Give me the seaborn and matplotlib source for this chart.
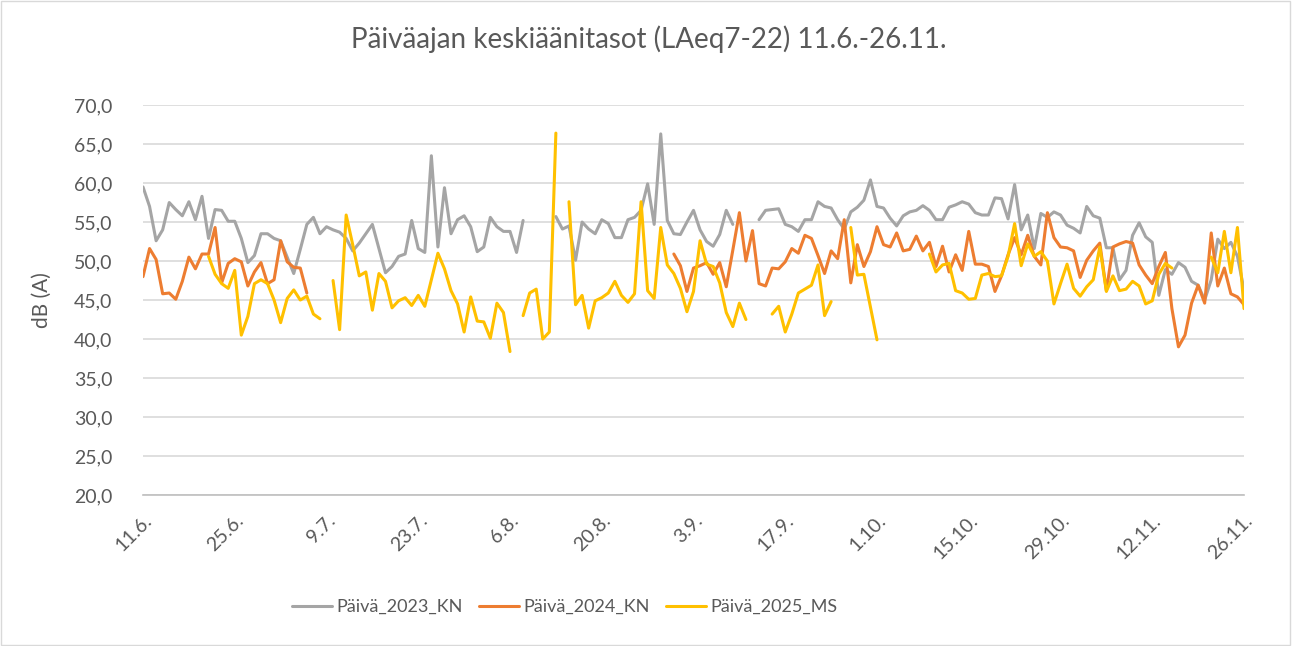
import numpy as np
import pandas as pd
import matplotlib
matplotlib.use("Agg")
import matplotlib.pyplot as plt
import seaborn as sns

nan = np.nan

# päivät 11.6. - 26.11. (169 päivää), indeksi 0..168
tick_pos = list(range(0, 169, 14))
tick_labels = ["11.6.", "25.6.", "9.7.", "23.7.", "6.8.", "20.8.", "3.9.",
               "17.9.", "1.10.", "15.10.", "29.10.", "12.11.", "26.11."]

paiva_2023 = [
    59.5, 57.0, 52.6, 54.0, 57.5, 56.6, 55.8, 57.6, 55.3, 58.3,
    52.9, 56.6, 56.5, 55.1, 55.1, 52.9, 49.8, 50.7, 53.5, 53.5,
    52.9, 52.6, 50.5, 48.4, 51.5, 54.7, 55.6, 53.5, 54.4, 54.0,
    53.7, 52.9, 51.3, 52.3, 53.5, 54.7, 51.6, 48.5, 49.3, 50.6,
    50.9, 55.2, 51.6, 51.1, 63.5, 51.8, 59.4, 53.5, 55.3, 55.8,
    54.4, 51.2, 51.8, 55.6, 54.4, 53.8, 53.8, 51.1, 55.2, nan,
    nan, nan, nan, 55.7, 54.1, 54.5, 50.1, 55.0, 54.1, 53.5,
    55.3, 54.8, 53.0, 53.0, 55.3, 55.6, 56.5, 59.9, 54.7, 66.3,
    55.2, 53.5, 53.4, 55.0, 56.5, 54.0, 52.5, 51.9, 53.4, 56.5,
    54.7, nan, nan, nan, 55.3, 56.5, 56.6, 56.7, 54.7, 54.4,
    53.8, 55.3, 55.3, 57.6, 57.0, 56.8, 55.3, 54.1, 56.3, 56.9,
    57.8, 60.4, 57.0, 56.8, 55.5, 54.5, 55.8, 56.3, 56.5, 57.1,
    56.5, 55.3, 55.3, 56.9, 57.2, 57.6, 57.3, 56.2, 55.9, 55.9,
    58.1, 58.0, 55.4, 59.8, 54.0, 55.9, 51.6, 56.1, 55.6, 56.3,
    55.9, 54.6, 54.2, 53.6, 57.0, 55.8, 55.5, 51.7, 51.7, 47.6,
    48.8, 53.3, 54.9, 53.1, 52.4, 45.6, 48.9, 48.3, 49.8, 49.2,
    47.4, 46.9, 45.0, 47.6, 52.8, 51.6, 52.4, 50.6, 46.3,
]

paiva_2024 = [
    48.0, 51.6, 50.2, 45.8, 45.9, 45.1, 47.4, 50.5, 49.0, 50.9,
    50.9, 54.3, 47.2, 49.7, 50.3, 49.9, 46.8, 48.6, 49.8, 47.1,
    47.6, 52.6, 49.9, 49.2, 49.1, 45.9, nan, nan, nan, nan,
    nan, nan, nan, nan, nan, nan, nan, nan, nan, nan,
    nan, nan, nan, nan, nan, nan, nan, nan, nan, nan,
    nan, nan, nan, nan, nan, nan, nan, nan, nan, nan,
    nan, nan, nan, nan, nan, nan, nan, nan, nan, nan,
    nan, nan, nan, nan, nan, nan, nan, nan, nan, nan,
    nan, 50.9, 49.4, 46.1, 49.1, 49.4, 49.8, 48.3, 49.8, 46.7,
    51.4, 56.2, 50.0, 53.9, 47.1, 46.8, 49.1, 49.0, 49.9, 51.6,
    51.0, 53.3, 52.9, 50.7, 48.4, 51.3, 50.3, 55.3, 47.2, 52.1,
    49.3, 51.2, 54.4, 52.1, 51.8, 53.6, 51.3, 51.5, 53.2, 51.3,
    52.4, 49.3, 51.9, 48.6, 50.8, 48.8, 53.8, 49.6, 49.6, 49.3,
    46.1, 48.1, 50.8, 53.0, 50.8, 53.3, 50.6, 49.5, 56.2, 53.0,
    51.8, 51.7, 51.3, 47.9, 50.1, 51.3, 52.3, 46.2, 51.8, 52.2,
    52.5, 52.3, 49.5, 48.2, 47.1, 49.3, 51.1, 43.9, 39.0, 40.5,
    44.6, 46.9, 44.6, 53.6, 46.8, 49.1, 45.8, 45.4, 44.4,
]

paiva_2025 = [
    nan, nan, nan, nan, nan, nan, nan, nan, nan, nan,
    50.6, 48.3, 47.1, 46.5, 48.8, 40.5, 42.9, 47.1, 47.6, 47.1,
    45.0, 42.1, 45.2, 46.3, 45.0, 45.5, 43.2, 42.6, nan, 47.5,
    41.2, 55.9, 52.1, 48.1, 48.6, 43.7, 48.4, 47.4, 44.0, 44.9,
    45.3, 44.3, 45.6, 44.2, 47.6, 51.0, 49.0, 46.2, 44.5, 40.9,
    45.4, 42.3, 42.2, 40.1, 44.6, 43.4, 38.4, nan, 43.0, 45.9,
    46.4, 40.0, 40.9, 66.4, nan, 57.6, 44.4, 45.6, 41.4, 44.9,
    45.3, 45.9, 47.4, 45.6, 44.7, 45.8, 57.6, 46.2, 45.2, 54.3,
    49.5, 48.4, 46.5, 43.5, 46.1, 52.6, 49.6, 49.3, 47.2, 43.4,
    41.6, 44.6, 42.5, nan, nan, nan, 43.2, 44.2, 40.9, 43.2,
    45.9, 46.4, 46.9, 49.5, 43.0, 44.8, nan, nan, 54.3, 48.2,
    48.3, 44.1, 39.9, nan, nan, nan, nan, nan, nan, nan,
    50.9, 48.6, 49.5, 49.7, 46.2, 45.9, 45.1, 45.2, 48.2, 48.4,
    48.0, 48.1, 50.6, 54.8, 49.4, 52.2, 50.6, 51.2, 50.0, 44.5,
    47.1, 49.6, 46.5, 45.5, 46.7, 47.6, 51.8, 46.1, 48.1, 46.2,
    46.4, 47.4, 46.8, 44.5, 44.9, 48.3, 49.7, 49.1, nan, nan,
    nan, nan, nan, 50.5, 48.5, 53.8, 48.5, 54.3, 43.9,
]

series_names = ["Päivä_2023_KN", "Päivä_2024_KN", "Päivä_2025_MS"]
colors = ["#A5A5A5", "#ED7D31", "#FFC000"]

frames = []
for name, vals in zip(series_names, [paiva_2023, paiva_2024, paiva_2025]):
    d = pd.DataFrame({"paiva": range(len(vals)), "dB": vals, "sarja": name})
    # katkot: uusi segmentti jokaisen puuttuvan arvon jälkeen
    d["seg"] = d["dB"].isna().cumsum()
    frames.append(d.dropna())
df = pd.concat(frames, ignore_index=True)
df["unit"] = df["sarja"] + "_" + df["seg"].astype(str)

sns.set_style("white")
plt.rcParams["font.family"] = ["Lato", "DejaVu Sans"]
txt = "#595959"

fig = plt.figure(figsize=(12.93, 6.46), dpi=100)
ax = fig.add_axes([0.1106, 0.2337, 0.8515, 0.6037])

sns.lineplot(data=df, x="paiva", y="dB", hue="sarja", units="unit",
             estimator=None, palette=dict(zip(series_names, colors)),
             hue_order=series_names, linewidth=2.2, ax=ax)

ax.set_xlim(0, 168)
ax.set_ylim(20, 70)
ax.set_yticks(np.arange(20, 71, 5))
ax.set_yticklabels([f"{v:.1f}".replace(".", ",") for v in np.arange(20, 71, 5)],
                   fontsize=14, color=txt)
ax.yaxis.grid(True, color="#D9D9D9", linewidth=1.2)
ax.set_axisbelow(True)
ax.tick_params(axis="y", length=0, pad=22)

ax.set_xticks(tick_pos)
ax.set_xticklabels(tick_labels, rotation=45, ha="right", rotation_mode="anchor",
                   fontsize=14, color=txt)
ax.tick_params(axis="x", length=6, width=1, color="#BFBFBF", direction="out", pad=6)

for s in ["top", "right", "left"]:
    ax.spines[s].set_visible(False)
ax.spines["bottom"].set_color("#BFBFBF")
ax.spines["bottom"].set_linewidth(1.2)

ax.set_xlabel("")
ax.set_ylabel("dB (A)", fontsize=15, color=txt, labelpad=16)

fig.suptitle("Päiväajan keskiäänitasot (LAeq7-22) 11.6.-26.11.", x=0.502, y=0.96,
             fontsize=20, color=txt)

ax.legend_.remove()
handles = [plt.Line2D([], [], color=c, linewidth=2.2) for c in colors]
fig.legend(handles, series_names, loc="center", bbox_to_anchor=(0.437, 0.06),
           ncol=3, frameon=False, fontsize=13, labelcolor=txt,
           handlelength=2.2, handletextpad=0.25, columnspacing=0.9)

fig.patches.append(plt.Rectangle((0.001, 0.002), 0.997, 0.996, transform=fig.transFigure,
                                 fill=False, edgecolor="#D9D9D9", linewidth=1))

fig.savefig("out.png", dpi=100)
